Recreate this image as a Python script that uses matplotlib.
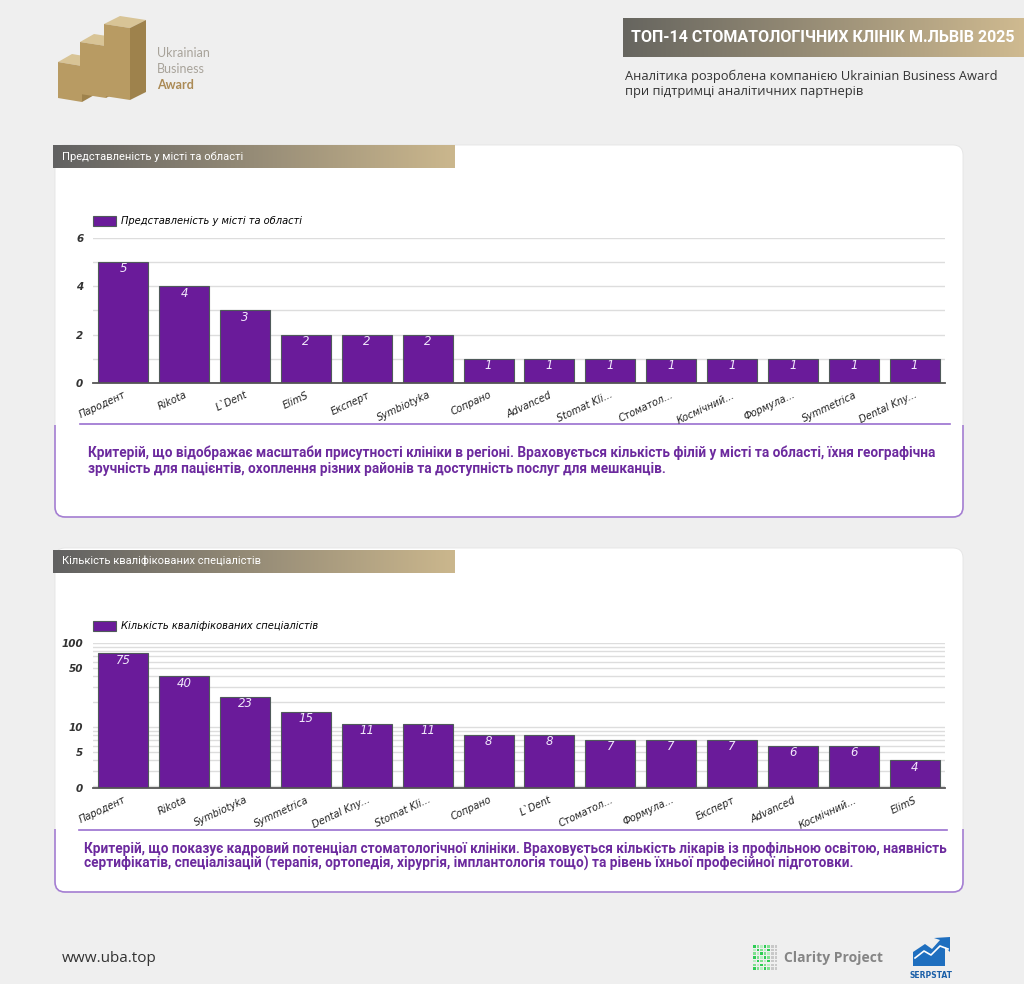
import numpy as np
import matplotlib.pyplot as plt
from matplotlib.patches import FancyBboxPatch, Polygon, PathPatch
from matplotlib.path import Path
from matplotlib.colors import LinearSegmentedColormap
from matplotlib.ticker import FixedLocator, NullFormatter

# ==================== дані ====================
names1 = ['Пародент', 'Rikota', 'L`Dent', 'ElimS', 'Експерт', 'Symbiotyka', 'Сопрано',
          'Advanced', 'Stomat Kli...', 'Стоматол...', 'Космічний...', 'Формула...',
          'Symmetrica', 'Dental Kny...']
vals1 = [5, 4, 3, 2, 2, 2, 1, 1, 1, 1, 1, 1, 1, 1]

names2 = ['Пародент', 'Rikota', 'Symbiotyka', 'Symmetrica', 'Dental Kny...', 'Stomat Kli...',
          'Сопрано', 'L`Dent', 'Стоматол...', 'Формула...', 'Експерт', 'Advanced',
          'Космічний...', 'ElimS']
vals2 = [75, 40, 23, 15, 11, 11, 8, 8, 7, 7, 7, 6, 6, 4]

title = 'ТОП-14 СТОМАТОЛОГІЧНИХ КЛІНІК М.ЛЬВІВ 2025'
subtitle = ['Аналітика розроблена компанією Ukrainian Business Award',
            'при підтримці аналітичних партнерів']
section1 = 'Представленість у місті та області'
section2 = 'Кількість кваліфікованих спеціалістів'
desc1 = ['Критерій, що відображає масштаби присутності клініки в регіоні. Враховується кількість філій у місті та області, їхня географічна',
         'зручність для пацієнтів, охоплення різних районів та доступність послуг для мешканців.']
desc2 = ['Критерій, що показує кадровий потенціал стоматологічної клініки. Враховується кількість лікарів із профільною освітою, наявність',
         'сертифікатів, спеціалізацій (терапія, ортопедія, хірургія, імплантологія тощо) та рівень їхньої професійної підготовки.']

PURPLE = '#6a1b9a'
TEXT_PURPLE = '#6c2a9e'
W, H = 1024, 984

fig = plt.figure(figsize=(W / 100, H / 100), dpi=100)
fig.patch.set_facecolor('#efefef')

# фонова вісь у пікселях
bg = fig.add_axes([0, 0, 1, 1])
bg.axis('off')
bg.set_xlim(0, W)
bg.set_ylim(H, 0)
bg.set_autoscale_on(False)


def band(x0, x1, y0, y1, c0, c1):
    cmap = LinearSegmentedColormap.from_list('g', [c0, c1])
    bg.imshow(np.linspace(0, 1, 256)[None, :], extent=(x0, x1, y1, y0),
              cmap=cmap, aspect='auto', zorder=3)


def card(x0, x1, y0, y1, ysep):
    bg.add_patch(FancyBboxPatch((x0, y0), x1 - x0, y1 - y0,
                                boxstyle='round,pad=0,rounding_size=10',
                                fc='white', ec='#e4e4e4', lw=0.6, zorder=1))
    r = 10
    verts = [(x0, ysep), (x0, y1 - r), (x0, y1), (x0 + r, y1), (x1 - r, y1),
             (x1, y1), (x1, y1 - r), (x1, ysep)]
    codes = [Path.MOVETO, Path.LINETO, Path.CURVE3, Path.CURVE3, Path.LINETO,
             Path.CURVE3, Path.CURVE3, Path.LINETO]
    bg.add_patch(PathPatch(Path(verts, codes), fill=False, ec='#a57fd3', lw=1.2, zorder=2))


# ==================== шапка ====================
band(623, 1024, 18, 57, '#66655f', '#cfba90')
bg.text(823, 38, title, ha='center', va='center', color='white',
        fontsize=11.5, fontweight='bold', family='Roboto', zorder=5)
for i, s in enumerate(subtitle):
    bg.text(625, 76 + i * 15, s, ha='left', va='center', color='#333333',
            fontsize=9.3, family='Open Sans', zorder=5)

# логотип
gold_top, gold_front, gold_side = '#d8c496', '#b89b63', '#9e824c'
blocks = [
    # (x, y, w, h, depth)
    (58, 62, 24, 36, 14),
    (80, 42, 26, 52, 14),
    (104, 24, 26, 72, 16),
]
for bx, by, bw, bh, d in blocks:
    bg.add_patch(Polygon([(bx, by), (bx + d, by - 8), (bx + d + bw, by - 4), (bx + bw, by + 4)],
                         fc=gold_top, ec='none', zorder=4))
    bg.add_patch(Polygon([(bx, by), (bx + bw, by + 4), (bx + bw, by + bh + 4), (bx, by + bh)],
                         fc=gold_front, ec='none', zorder=4))
    bg.add_patch(Polygon([(bx + bw, by + 4), (bx + d + bw, by - 4), (bx + d + bw, by + bh - 4),
                          (bx + bw, by + bh + 4)], fc=gold_side, ec='none', zorder=4))
bg.text(157, 53, 'Ukrainian', color='#a8a39a', fontsize=9, family='Lato', va='center', zorder=5)
bg.text(157, 69, 'Business', color='#a8a39a', fontsize=9, family='Lato', va='center', zorder=5)
bg.text(157, 85, 'Award', color='#ab8a55', fontsize=9, family='Lato', fontweight='bold',
        va='center', zorder=5)

# ==================== картки ====================
card(55, 963, 145, 517, 425)
bg.plot([80, 950], [424, 424], color='#9a6fcf', lw=1.2, zorder=3)
band(53, 455, 145, 168, '#616161', '#cbb78d')
bg.text(62, 157, section1, color='white', fontsize=8, family='Roboto', va='center', zorder=5)

card(55, 963, 548, 892, 829)
bg.plot([79, 947], [830, 830], color='#9a6fcf', lw=1.2, zorder=3)
band(53, 455, 550, 573, '#616161', '#cbb78d')
bg.text(62, 561, section2, color='white', fontsize=8, family='Roboto', va='center', zorder=5)

desc_kw = dict(color=TEXT_PURPLE, fontsize=9.8, fontweight='bold', family='Roboto',
               va='baseline', zorder=5)
bg.text(88, 457, desc1[0], **desc_kw)
bg.text(88, 473, desc1[1], **desc_kw)
bg.text(84, 853, desc2[0], **desc_kw)
bg.text(84, 868, desc2[1], **desc_kw)


# ==================== графіки ====================
def make_chart(top, bottom, names, vals, label):
    ax = fig.add_axes([93 / W, 1 - bottom / H, (945 - 93) / W, (bottom - top) / H])
    ax.patch.set_alpha(0)
    x = np.arange(len(vals))
    bars = ax.bar(x, vals, width=0.82, color=PURPLE, edgecolor='#4f5a5a',
                  linewidth=0.8, label=label, zorder=3)
    ax.bar_label(bars, padding=-9.5, color='#f1e8fb', fontsize=8.5, fontstyle='italic')
    ax.set_xlim(-0.5, len(vals) - 0.5)
    ax.set_xticks(x, names, rotation=25, ha='right', rotation_mode='anchor',
                  fontsize=7, fontstyle='italic', color='#222222')
    ax.tick_params(axis='x', length=0, pad=5)
    ax.tick_params(axis='y', which='both', length=0, pad=7, labelsize=7.5, labelcolor='#333333')
    for s in ['top', 'right', 'left']:
        ax.spines[s].set_visible(False)
    ax.spines['bottom'].set_color('#555555')
    ax.spines['bottom'].set_linewidth(1.3)
    ax.spines['bottom'].set_zorder(4)
    ax.legend(loc='center left', bbox_to_anchor=(0, 1 + 17 / (bottom - top)), frameon=False,
              prop=dict(style='italic', size=7.1), handlelength=2.3, handleheight=1.3,
              borderpad=0, borderaxespad=0, handletextpad=0.5)
    return ax


ax1 = make_chart(238, 383, names1, vals1, section1)
ax1.set_ylim(0, 6)
ax1.set_yticks([0, 2, 4, 6])
ax1.yaxis.set_minor_locator(FixedLocator([1, 3, 5]))
ax1.grid(True, which='both', axis='y', color='#dddddd', linewidth=1, zorder=0)

ax2 = make_chart(643, 788, names2, vals2, section2)
ax2.set_yscale('log')
ax2.set_ylim(1.88, 100)
ax2.set_yticks([1.88, 5, 10, 50, 100], ['0', '5', '10', '50', '100'])
minor = [v * m for v in (1, 10) for m in range(2, 10)]
ax2.yaxis.set_minor_locator(FixedLocator(minor))
ax2.yaxis.set_minor_formatter(NullFormatter())
ax2.grid(True, which='both', axis='y', color='#dddddd', linewidth=1, zorder=0)

for ax in (ax1, ax2):
    for lbl in ax.get_yticklabels():
        lbl.set_fontweight('bold')
        lbl.set_fontstyle('italic')

# ==================== підвал ====================
bg.text(62, 959, 'www.uba.top', color='#333333', fontsize=11, family='Open Sans',
        va='center', zorder=5)

greens = ['#2ecc55', '#7fe08f', '#b9eec2']
for i in range(7):
    for j in range(7):
        bg.add_patch(plt.Rectangle((753 + i * 3.6, 945 + j * 3.7), 2.6, 2.6,
                                   fc=greens[(i + 2 * j) % 3] if i < 5 else '#c8c8c8',
                                   ec='none', zorder=4))
bg.text(784, 958, 'Clarity Project', color='#858585', fontsize=10, fontweight='bold',
        family='Open Sans', va='center', zorder=5)

bg.add_patch(Polygon([(913, 966), (913, 952), (925, 944), (932, 949), (940, 940),
                      (934, 938), (950, 937), (950, 952), (945, 947), (945, 966)],
                     fc='#1f6fbf', ec='none', zorder=4))
bg.plot([915, 924, 931, 940, 948], [958, 951, 955, 946, 949], color='white', lw=1.2, zorder=5)
bg.text(931, 975, 'SERPSTAT', color='#1a5fa8', fontsize=5.5, fontweight='bold',
        ha='center', va='center', zorder=5)

fig.savefig('out.png', dpi=100, facecolor=fig.get_facecolor())
